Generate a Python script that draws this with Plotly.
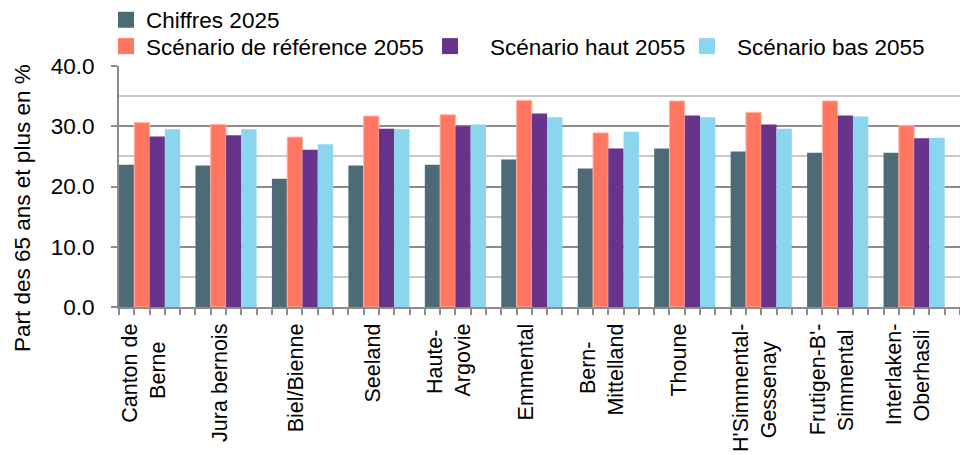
import plotly.graph_objects as go

NB = "\u00a0"
categories = ["Canton de Berne", "Jura bernois", "Biel/Bienne", "Seeland", "Haute-Argovie",
              "Emmental", "Bern-Mittelland", "Thoune", "H'Simmental-Gessenay",
              "Frutigen-B'-Simmental", "Interlaken-Oberhasli"]
tick_labels = ["Canton de<br>Berne" + NB * 3, "Jura bernois", "Biel/Bienne", "Seeland",
               "Haute-" + NB + "<br>Argovie", "Emmental", "Bern-" + NB * 3 + "<br>Mittelland",
               "Thoune", "H'Simmental-<br>Gessenay" + NB * 3,
               "Frutigen-B'-<br>Simmental" + NB, "Interlaken-<br>Oberhasli" + NB]
y_ticks = [0, 10, 20, 30, 40]

series_names = ["Chiffres 2025", "Scénario de référence 2055", "Scénario haut 2055", "Scénario bas 2055"]
chiffres_2025 = [23.6, 23.5, 21.3, 23.5, 23.6, 24.5, 23.0, 26.3, 25.8, 25.6, 25.6]
reference_2055 = [30.6, 30.3, 28.2, 31.7, 31.9, 34.3, 28.9, 34.2, 32.3, 34.2, 30.1]
haut_2055 = [28.3, 28.5, 26.1, 29.6, 30.0, 32.1, 26.3, 31.8, 30.3, 31.8, 28.0]
bas_2055 = [29.5, 29.5, 27.0, 29.5, 30.3, 31.5, 29.1, 31.5, 29.6, 31.6, 28.1]

colors = ["#4E6A77", "#FF7761", "#68338A", "#8BD6EE"]
FONT = "Liberation Sans, Arial, sans-serif"
FS = 22.5
FS_X = 21.5
# page has an 8px body margin, so the figure is sized to the visible area
W, H = 960, 447
L, R, T, B = 111, 8, 58, 148

x_idx = list(range(len(categories)))
fig = go.Figure()
all_series = [chiffres_2025, reference_2055, haut_2055, bas_2055]
for name, vals, col in zip(series_names, all_series, colors):
    fig.add_trace(go.Bar(
        x=x_idx, y=vals, name=name, marker_color=col,
        marker_line_width=1 if col == "#FF7761" else 0,
        marker_line_color="#FFB3A6",
        showlegend=False, hovertext=categories,
    ))

# legend entries (square markers), one legend each to mimic the original layout
legend_cfg = [
    ("legend", 98, 12, 30),
    ("legend2", 98, 38.5, 30),
    ("legend3", 402, 38.5, 70),
    ("legend4", 669, 38.5, 50),
]
for (lg, lx, ly, iw), name, col in zip(legend_cfg, series_names, colors):
    fig.add_trace(go.Scatter(
        x=[None], y=[None], mode="markers", name=name, legend=lg,
        marker=dict(symbol="square", size=18, color=col), showlegend=True,
    ))

layout_legends = {}
for lg, lx, ly, iw in legend_cfg:
    layout_legends[lg] = dict(
        x=lx / W, y=1 - ly / H, xref="container", yref="container",
        xanchor="left", yanchor="middle", orientation="h",
        font=dict(family=FONT, size=FS, color="#000000"),
        itemwidth=iw, bgcolor="rgba(0,0,0,0)", borderwidth=0,
        itemsizing="trace",
    )

fig.update_layout(
    width=W, height=H,
    margin=dict(l=L, r=R, t=T, b=B, pad=0, autoexpand=False),
    paper_bgcolor="white", plot_bgcolor="white",
    barmode="group", bargap=0.2, bargroupgap=0,
    font=dict(family=FONT, size=FS, color="#000000"),
    **layout_legends,
)

fig.update_xaxes(
    range=[-0.4, 10.6], tickmode="array", tickvals=x_idx, ticktext=tick_labels,
    tickangle=-90, ticks="outside", ticklen=6, tickwidth=2, tickcolor="#8C8C8C",
    showline=True, linecolor="#8C8C8C", linewidth=2, showgrid=False, zeroline=False,
    minor=dict(tick0=-0.4, dtick=0.2, ticks="outside", ticklen=6, tickwidth=2,
               tickcolor="#8C8C8C", showgrid=False),
    ticklabelshift=-6, ticklabelstandoff=0,
    tickfont=dict(family=FONT, size=FS_X, color="#000000"),
)
fig.update_yaxes(
    range=[0, 40], tickmode="array", tickvals=y_ticks, tickformat=".1f",
    ticks="outside", ticklen=6, tickwidth=2, tickcolor="#8C8C8C",
    showline=True, linecolor="#8C8C8C", linewidth=2,
    showgrid=True, gridcolor="#8C8C8C", gridwidth=1.5, zeroline=False,
    minor=dict(dtick=5, showgrid=True, gridcolor="#C8C8C8", gridwidth=1.5, ticks=""),
    ticklabelstandoff=12,
    tickfont=dict(family=FONT, size=FS, color="#000000"),
)

fig.add_annotation(
    text="Part des 65 ans et plus en %", textangle=-90,
    xref="paper", yref="paper",
    x=(14 - L) / (W - L - R), y=(H - B - 200) / (H - T - B),
    xanchor="center", yanchor="middle", showarrow=False,
    font=dict(family=FONT, size=FS, color="#000000"),
)

fig.write_html("out.html")
